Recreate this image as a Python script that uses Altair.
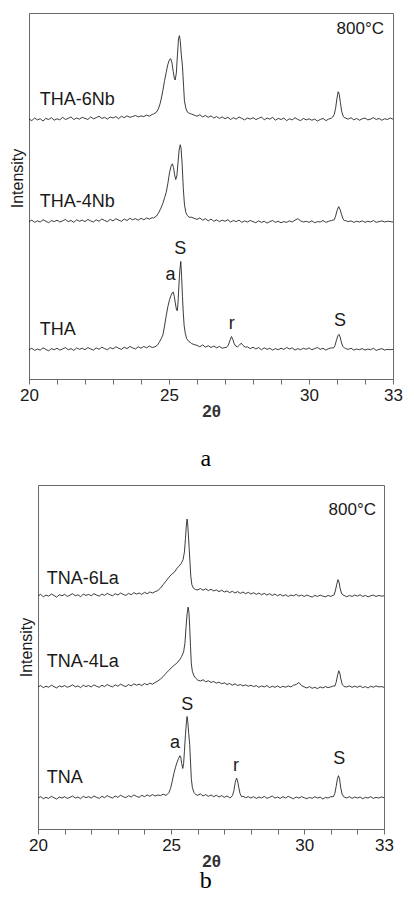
import altair as alt
import pandas as pd

# 2-theta sampling grid (step 0.1) for the baselines
grid = [round(20 + i * 0.1, 1) for i in range(131)]

# ---------------- panel a ----------------
tha6_base = [
    71.0, 70.6, 71.3, 70.8, 71.1, 70.5, 71.2, 70.9, 71.4, 70.7,
    71.1, 70.8, 71.5, 70.9, 71.2, 71.6, 70.9, 71.3, 71.0, 71.5,
    71.2, 70.9, 71.6, 71.1, 71.4, 71.8, 71.2, 71.5, 71.0, 71.6,
    71.3, 71.7, 71.1, 71.8, 71.4, 71.9, 71.5, 71.7, 72.0, 71.6,
    71.9, 71.7, 72.1, 71.8, 72.3, 72.6, 73.5, 75.0, 78.0, 83.0,
    87.0, 86.0, 82.0, 88.0, 93.0, 85.0, 76.0, 72.8, 72.4, 72.1,
    71.8, 72.2, 71.6, 72.0, 71.5, 71.9, 71.3, 71.7, 71.2, 71.6,
    71.1, 71.5, 70.9, 71.4, 71.0, 71.6, 71.2, 70.8, 71.3, 71.0,
    71.4, 70.9, 71.2, 71.6, 70.8, 71.3, 71.0, 71.5, 70.7, 71.2,
    70.9, 71.3, 70.6, 71.1, 70.8, 71.4, 70.9, 70.6, 71.2, 70.8,
    71.1, 70.7, 71.0, 70.5, 70.9, 71.2, 70.6, 71.0, 71.3, 72.2,
    77.0, 77.5, 72.0, 71.3, 71.0, 71.4, 70.8, 71.2, 70.7, 71.1,
    71.3, 70.8, 71.0, 71.4, 70.9, 71.2, 70.7, 71.1, 70.9, 71.3,
    71.0,
]
tha6_p1_x = [24.45, 24.55, 24.62, 24.68, 24.72, 24.78, 24.84, 24.9, 24.96, 25.02, 25.06, 25.1,
             25.15, 25.19, 25.22, 25.26, 25.3, 25.34, 25.37, 25.4, 25.44, 25.48, 25.52, 25.55,
             25.6, 25.65, 25.72]
tha6_p1_y = [72.4, 72.9, 73.8, 75.2, 76.5, 78.8, 81.5, 83.8, 86.0, 87.3, 87.5, 86.6,
             84.0, 82.2, 81.7, 83.5, 88.5, 93.0, 93.8, 92.5, 88.5, 85.5, 80.0, 76.0,
             74.0, 73.0, 72.6]
tha6_p2_x = [30.85, 30.9, 30.95, 31.0, 31.04, 31.08, 31.12, 31.17, 31.22, 31.28]
tha6_p2_y = [71.6, 72.3, 74.0, 76.8, 78.5, 77.8, 75.5, 73.0, 71.8, 71.3]

tha4_base = [
    43.0, 43.4, 42.8, 43.2, 42.9, 43.5, 43.1, 42.7, 43.3, 43.0,
    43.4, 42.9, 43.2, 43.6, 43.0, 43.3, 42.8, 43.5, 43.1, 43.4,
    43.0, 43.6, 43.2, 42.9, 43.5, 43.1, 43.7, 43.3, 43.0, 43.6,
    43.2, 43.8, 43.4, 43.1, 43.7, 43.3, 43.9, 43.5, 43.8, 43.4,
    43.9, 43.5, 44.0, 43.7, 44.1, 44.4, 45.0, 47.0, 50.0, 53.0,
    56.0, 58.0, 55.0, 59.0, 63.0, 55.0, 48.0, 45.0, 44.2, 43.9,
    43.6, 44.0, 43.4, 43.8, 43.2, 43.7, 43.1, 43.5, 43.0, 43.4,
    43.1, 43.5, 42.9, 43.3, 43.0, 43.4, 42.8, 43.2, 42.9, 43.3,
    43.0, 42.7, 43.2, 42.8, 43.1, 42.6, 43.0, 43.3, 42.8, 43.1,
    42.7, 43.0, 42.8, 43.2, 42.9, 43.4, 43.8, 43.2, 42.9, 43.1,
    42.8, 43.2, 42.7, 43.0, 42.9, 43.3, 42.8, 43.1, 43.3, 44.0,
    46.5, 46.0, 43.8, 43.3, 43.0, 43.2, 42.8, 43.1, 42.9, 43.2,
    42.8, 43.1, 42.9, 43.3, 42.8, 43.0, 43.2, 42.9, 43.1, 43.0,
    42.9,
]
tha4_p1_x = [24.45, 24.55, 24.62, 24.7, 24.78, 24.84, 24.9, 24.96, 25.02, 25.08, 25.12, 25.16,
             25.2, 25.24, 25.28, 25.32, 25.36, 25.4, 25.43, 25.47, 25.51, 25.55, 25.6, 25.65, 25.72]
tha4_p1_y = [44.0, 44.5, 45.3, 46.5, 48.0, 49.5, 51.0, 53.5, 56.5, 58.3, 58.8, 57.8,
             55.8, 54.5, 55.5, 59.0, 62.5, 64.0, 63.0, 58.5, 52.0, 47.8, 45.5, 44.7, 44.2]
tha4_p2_x = [30.9, 30.95, 31.0, 31.06, 31.11, 31.16, 31.21, 31.27]
tha4_p2_y = [43.5, 44.5, 46.0, 47.1, 46.3, 45.0, 43.8, 43.2]

tha_base = [
    8.0, 8.4, 7.8, 8.2, 7.9, 8.5, 8.1, 7.7, 8.3, 8.0,
    8.4, 7.9, 8.2, 8.6, 8.0, 8.3, 7.8, 8.5, 8.1, 8.4,
    8.0, 8.6, 8.2, 7.9, 8.5, 8.1, 8.7, 8.3, 8.0, 8.6,
    8.2, 8.8, 8.4, 8.1, 8.7, 8.3, 8.9, 8.5, 8.2, 8.8,
    8.4, 8.9, 8.5, 9.0, 8.6, 8.9, 9.5, 12.0, 17.0, 22.0,
    23.0, 23.0, 19.0, 28.0, 30.0, 17.0, 11.0, 10.0, 9.7, 9.4,
    9.2, 8.8, 9.3, 8.7, 9.1, 8.6, 9.0, 8.5, 8.9, 8.4,
    8.6, 8.7, 11.0, 9.5, 8.8, 9.6, 9.2, 8.5, 8.8, 8.3,
    8.7, 8.2, 8.6, 8.0, 8.5, 8.1, 8.4, 7.9, 8.3, 8.0,
    8.4, 8.1, 8.6, 8.2, 8.5, 7.9, 8.3, 8.0, 8.4, 8.1,
    8.5, 8.0, 8.3, 8.6, 8.1, 8.4, 7.9, 8.3, 8.5, 8.8,
    11.5, 11.0, 8.8, 8.3, 8.1, 8.4, 7.9, 8.2, 8.0, 8.3,
    7.9, 8.2, 8.0, 8.4, 7.8, 8.1, 8.3, 7.9, 8.1, 8.0,
    8.1,
]
tha_p1_x = [24.5, 24.58, 24.65, 24.72, 24.78, 24.84, 24.9, 24.96, 25.02, 25.07, 25.12, 25.15,
            25.19, 25.23, 25.27, 25.3, 25.33, 25.36, 25.39, 25.42, 25.45, 25.48, 25.51, 25.54,
            25.58, 25.63, 25.7, 25.78]
tha_p1_y = [8.8, 9.2, 10.0, 11.0, 12.0, 14.5, 17.3, 19.8, 21.7, 22.8, 23.6, 23.8,
            22.5, 20.5, 18.8, 18.7, 22.0, 26.5, 30.0, 32.1, 28.0, 22.5, 18.0, 14.6,
            12.5, 11.0, 10.3, 9.9]
tha_p2_x = [27.05, 27.12, 27.18, 27.23, 27.28, 27.33, 27.38, 27.45, 27.52, 27.58, 27.64, 27.72]
tha_p2_y = [8.6, 9.3, 10.6, 11.6, 10.8, 9.6, 9.0, 8.8, 9.3, 9.8, 9.2, 8.7]
tha_p3_x = [30.88, 30.93, 30.98, 31.03, 31.07, 31.11, 31.15, 31.2, 31.26]
tha_p3_y = [8.5, 9.2, 10.6, 11.8, 12.2, 11.5, 10.2, 9.0, 8.5]

top_names = ["THA-6Nb", "THA-4Nb", "THA"]
top_names_x = [20.385, 20.385, 20.385]
top_names_y = [74.9, 46.9, 11.9]
top_peaks = ["S", "a", "r", "S"]
top_peaks_x = [25.40, 25.05, 27.24, 31.11]
top_peaks_y = [34.2, 27.0, 13.7, 14.6]
top_temp = ["800°C"]
top_temp_x = [32.68]
top_temp_y = [94.2]

# ---------------- panel b ----------------
tna6_base = [
    67.8, 68.2, 67.5, 68.0, 67.7, 68.3, 67.9, 67.4, 68.1, 67.8,
    68.2, 67.6, 68.0, 68.4, 67.8, 68.1, 67.5, 68.3, 67.9, 68.2,
    67.8, 68.4, 68.0, 67.7, 68.3, 67.9, 68.5, 68.1, 67.8, 68.4,
    68.0, 68.6, 68.2, 67.9, 68.5, 68.1, 68.7, 68.3, 68.6, 68.2,
    68.8, 68.4, 68.9, 68.6, 69.0, 69.5, 70.3, 71.5, 72.8, 73.8,
    74.1, 74.8, 75.6, 76.3, 77.0, 78.1, 84.0, 80.0, 71.3, 69.8,
    69.5, 69.9, 69.4, 69.8, 69.3, 69.7, 69.2, 69.5, 69.0, 69.4,
    68.9, 69.2, 68.7, 69.1, 68.6, 69.0, 68.5, 68.9, 68.4, 68.8,
    68.3, 68.7, 68.2, 68.6, 68.1, 68.5, 68.0, 68.4, 67.9, 68.3,
    67.8, 68.2, 67.7, 68.1, 67.6, 68.0, 67.8, 68.2, 67.7, 68.0,
    67.6, 68.0, 67.7, 67.4, 67.9, 67.6, 68.0, 67.7, 67.5, 67.9,
    67.6, 68.0, 69.5, 72.0, 68.8, 67.9, 67.5, 67.9, 67.6, 68.0,
    67.7, 68.1, 67.6, 67.9, 67.5, 67.8, 68.0, 67.6, 67.9, 67.7,
    67.8,
]
tna6_p1_x = [24.5, 24.6, 24.7, 24.8, 24.9, 25.0, 25.08, 25.15, 25.22, 25.3, 25.38, 25.45,
             25.5, 25.54, 25.57, 25.6, 25.62, 25.65, 25.68, 25.71, 25.74, 25.78, 25.84, 25.92]
tna6_p1_y = [69.3, 70.0, 71.0, 72.0, 73.0, 73.9, 74.4, 74.9, 75.8, 76.4, 77.2, 78.3,
             80.5, 84.5, 88.0, 90.1, 89.0, 85.5, 81.5, 77.5, 73.5, 71.0, 70.0, 69.6]
tna6_p2_x = [31.12, 31.17, 31.22, 31.27, 31.31, 31.35, 31.4, 31.46]
tna6_p2_y = [68.0, 69.2, 71.0, 72.5, 71.8, 70.0, 68.6, 68.0]

tna4_base = [
    41.3, 41.7, 41.1, 41.5, 41.2, 41.8, 41.4, 41.0, 41.6, 41.3,
    41.7, 41.2, 41.5, 41.9, 41.3, 41.6, 41.1, 41.8, 41.4, 41.7,
    41.3, 41.9, 41.5, 41.2, 41.8, 41.4, 42.0, 41.6, 41.3, 41.9,
    41.5, 42.1, 41.7, 41.4, 42.0, 41.6, 42.2, 41.8, 42.1, 41.7,
    42.3, 41.9, 42.4, 42.1, 42.6, 43.0, 43.6, 44.3, 45.3, 46.3,
    47.0, 47.5, 48.0, 49.0, 50.0, 52.0, 60.0, 56.0, 45.5, 43.8,
    43.3, 43.0, 43.4, 42.8, 43.1, 42.6, 42.9, 42.4, 42.7, 42.2,
    42.5, 42.0, 42.3, 41.8, 42.2, 41.7, 42.0, 41.6, 41.9, 41.5,
    41.8, 41.4, 41.7, 41.2, 41.6, 41.3, 41.7, 41.1, 41.5, 41.2,
    41.6, 41.1, 41.5, 41.2, 41.6, 41.3, 41.8, 42.0, 42.6, 41.7,
    41.3, 41.0, 41.4, 40.9, 41.2, 40.8, 41.3, 41.0, 41.4, 41.1,
    41.3, 41.6, 42.8, 45.0, 43.0, 41.8, 41.3, 41.6, 41.2, 41.5,
    41.2, 41.6, 41.1, 41.4, 41.0, 41.5, 41.2, 41.6, 41.3, 41.4,
    41.2,
]
tna4_p1_x = [24.5, 24.6, 24.7, 24.8, 24.9, 25.0, 25.1, 25.18, 25.25, 25.32, 25.4, 25.47,
             25.52, 25.56, 25.6, 25.64, 25.67, 25.7, 25.73, 25.76, 25.8, 25.86, 25.93]
tna4_p1_y = [43.0, 43.6, 44.3, 45.2, 46.0, 46.8, 47.5, 48.0, 48.5, 49.2, 50.2, 51.5,
             54.0, 58.5, 62.5, 64.5, 63.0, 58.5, 53.0, 48.0, 45.8, 44.5, 43.8]
tna4_p2_x = [31.15, 31.2, 31.25, 31.3, 31.34, 31.38, 31.43, 31.5]
tna4_p2_y = [41.5, 42.6, 44.5, 46.0, 45.3, 43.6, 42.0, 41.4]

tna_base = [
    9.0, 9.4, 8.8, 9.2, 8.9, 9.5, 9.1, 8.7, 9.3, 9.0,
    9.4, 8.9, 9.2, 9.6, 9.0, 9.3, 8.8, 9.5, 9.1, 9.4,
    9.0, 9.6, 9.2, 8.9, 9.5, 9.1, 9.7, 9.3, 9.0, 9.6,
    9.2, 9.8, 9.4, 9.1, 9.7, 9.3, 9.9, 9.5, 9.2, 9.8,
    9.4, 9.9, 9.5, 10.0, 9.6, 9.9, 9.7, 10.1, 9.8, 10.3,
    13.5, 15.6, 18.5, 20.3, 21.0, 17.6, 32.0, 25.0, 11.0, 10.1,
    9.8, 10.2, 9.6, 10.0, 9.5, 9.9, 9.4, 9.8, 9.3, 9.7,
    9.2, 9.6, 9.1, 9.5, 14.5, 9.4, 9.0, 9.5, 9.1, 9.4,
    9.0, 9.4, 8.9, 9.3, 9.0, 9.5, 8.9, 9.2, 9.6, 9.0,
    9.3, 8.9, 9.4, 9.0, 9.5, 9.1, 8.8, 9.3, 9.0, 9.4,
    9.1, 8.8, 9.2, 8.9, 9.4, 9.0, 9.3, 8.7, 9.2, 9.0,
    9.4, 9.2, 11.0, 15.0, 11.5, 9.3, 9.0, 9.4, 8.9, 9.3,
    9.0, 9.3, 8.8, 9.2, 9.0, 9.4, 8.9, 9.2, 9.0, 9.3,
    9.1,
]
tna_p1_x = [24.85, 24.92, 24.98, 25.04, 25.1, 25.16, 25.22, 25.28, 25.33, 25.36, 25.4, 25.44,
            25.47, 25.5, 25.54, 25.58, 25.6, 25.63, 25.66, 25.7, 25.73, 25.76, 25.8, 25.86, 25.93]
tna_p1_y = [10.0, 10.6, 11.8, 13.8, 16.0, 17.8, 19.3, 20.5, 21.3, 21.0, 19.0, 17.6,
            19.0, 22.5, 27.5, 31.5, 32.7, 31.0, 28.0, 24.5, 19.5, 14.6, 12.0, 10.6, 10.0]
tna_p2_x = [27.25, 27.31, 27.36, 27.41, 27.46, 27.5, 27.54, 27.59, 27.65]
tna_p2_y = [9.2, 9.8, 11.2, 13.5, 14.8, 14.0, 12.2, 10.3, 9.4]
tna_p3_x = [31.1, 31.15, 31.2, 31.25, 31.29, 31.33, 31.37, 31.42, 31.48]
tna_p3_y = [9.4, 10.3, 12.3, 14.6, 15.5, 14.5, 12.2, 10.2, 9.4]

bot_names = ["TNA-6La", "TNA-4La", "TNA"]
bot_names_x = [20.33, 20.33, 20.33]
bot_names_y = [71.3, 47.2, 13.4]
bot_peaks = ["S", "a", "r", "S"]
bot_peaks_x = [25.61, 25.15, 27.44, 31.32]
bot_peaks_y = [34.7, 23.6, 17.0, 18.8]
bot_temp = ["800°C"]
bot_temp_x = [32.70]
bot_temp_y = [91.2]

tick_values = list(range(20, 34))
SANS = "Liberation Sans"
SERIF = "Liberation Serif"
LINE = "#262626"
FRAME = "#6a6a6a"
TXT = "#1a1a1a"


def build(name, base, segments):
    xs, ys = [], []
    for x, y in zip(grid, base):
        if any(min(sx) <= x <= max(sx) for sx, _ in segments):
            continue
        xs.append(x)
        ys.append(y)
    for sx, sy in segments:
        xs += sx
        ys += sy
    df = pd.DataFrame({"x": xs, "y": ys})
    df["series"] = name
    return df.sort_values("x")


def enc_x():
    return alt.X(
        "x:Q",
        scale=alt.Scale(domain=[20, 33], nice=False, zero=False),
        axis=alt.Axis(
            values=tick_values,
            labelExpr="(datum.value==20||datum.value==25||datum.value==30||datum.value==33) ? datum.value : ''",
            title="2θ", grid=False, tickSize=5, labelFlush=False, labelOverlap=False,
            labelPadding=3, titlePadding=0,
            labelFont=SANS, labelFontSize=17, labelColor=TXT,
            titleFont=SANS, titleFontSize=17, titleFontWeight="bold", titleColor="#333333",
            domainColor=FRAME, tickColor=FRAME,
        ),
    )


def enc_y(title_y):
    return alt.Y(
        "y:Q",
        scale=alt.Scale(domain=[0, 100], nice=False, zero=False),
        axis=alt.Axis(title="Intensity", labels=False, ticks=False, grid=False,
                      titlePadding=4, titleY=title_y,
                      titleFont=SANS, titleFontSize=16, titleFontWeight="normal", titleColor=TXT,
                      domainColor=FRAME),
    )


def panel(curves, names, nx, ny, peaks, px, py, temp, tx, ty, w, h, caption, cap_offset, title_y):
    lines = alt.Chart(pd.concat(curves)).mark_line(
        color=LINE, strokeWidth=0.9
    ).encode(x=enc_x(), y=enc_y(title_y), detail="series:N")
    name_df = pd.DataFrame({"x": nx, "y": ny, "t": names})
    peak_df = pd.DataFrame({"x": px, "y": py, "t": peaks})
    temp_df = pd.DataFrame({"x": tx, "y": ty, "t": temp})
    t1 = alt.Chart(name_df).mark_text(
        align="left", baseline="alphabetic", font=SANS, fontSize=18, color=TXT
    ).encode(x=enc_x(), y=enc_y(title_y), text="t:N")
    t2 = alt.Chart(peak_df).mark_text(
        align="center", baseline="alphabetic", font=SANS, fontSize=18, color=TXT
    ).encode(x=enc_x(), y=enc_y(title_y), text="t:N")
    t3 = alt.Chart(temp_df).mark_text(
        align="right", baseline="alphabetic", font=SANS, fontSize=17, color=TXT
    ).encode(x=enc_x(), y=enc_y(title_y), text="t:N")
    return alt.layer(lines, t1, t2, t3).properties(
        width=w, height=h,
        title=alt.TitleParams(
            caption, orient="bottom", anchor="middle", frame="bounds",
            font=SERIF, fontSize=24, fontWeight="normal", color="#000000", offset=cap_offset,
        ),
    )


top = panel(
    [build("THA-6Nb", tha6_base, [(tha6_p1_x, tha6_p1_y), (tha6_p2_x, tha6_p2_y)]),
     build("THA-4Nb", tha4_base, [(tha4_p1_x, tha4_p1_y), (tha4_p2_x, tha4_p2_y)]),
     build("THA", tha_base, [(tha_p1_x, tha_p1_y), (tha_p2_x, tha_p2_y), (tha_p3_x, tha_p3_y)])],
    top_names, top_names_x, top_names_y, top_peaks, top_peaks_x, top_peaks_y,
    top_temp, top_temp_x, top_temp_y, 364, 366, "a", 28, 165,
)
bottom = panel(
    [build("TNA-6La", tna6_base, [(tna6_p1_x, tna6_p1_y), (tna6_p2_x, tna6_p2_y)]),
     build("TNA-4La", tna4_base, [(tna4_p1_x, tna4_p1_y), (tna4_p2_x, tna4_p2_y)]),
     build("TNA", tna_base, [(tna_p1_x, tna_p1_y), (tna_p2_x, tna_p2_y), (tna_p3_x, tna_p3_y)])],
    bot_names, bot_names_x, bot_names_y, bot_peaks, bot_peaks_x, bot_peaks_y,
    bot_temp, bot_temp_x, bot_temp_y, 346, 344, "b", 0, 162,
)

chart = alt.vconcat(
    top, bottom, spacing=12, center=True, background="white",
    padding={"left": 0, "right": 0, "top": 4, "bottom": 0},
).configure_view(stroke=FRAME, strokeWidth=1)

chart.save("out.html", embed_options={"renderer": "svg", "actions": False})
